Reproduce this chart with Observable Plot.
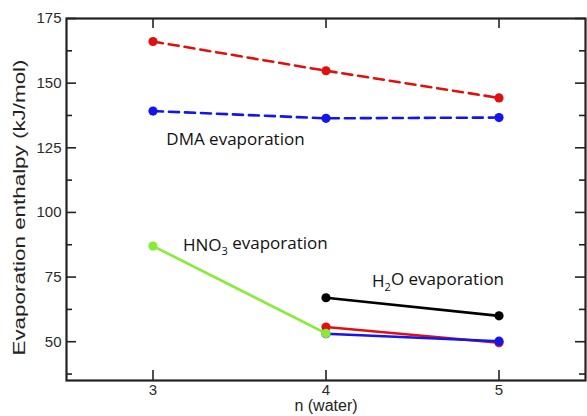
<!DOCTYPE html>
<html>
<head>
<meta charset="utf-8">
<script src="https://cdn.jsdelivr.net/npm/d3@7"></script>
<script src="https://cdn.jsdelivr.net/npm/@observablehq/plot@0.6"></script>
<style>
  html, body { margin: 0; padding: 0; background: #fff; }
</style>
</head>
<body>
<div id="chart"></div>
<script>
// ---- data ----
const nWater = [3, 4, 5];
const dmaRed  = [166.1, 154.8, 144.3];   // DMA evaporation (red, dashed)
const dmaBlue = [139.2, 136.4, 136.7];   // DMA evaporation (blue, dashed)
const nHno3 = [3, 4];
const hno3Green = [87.0, 53.2];          // HNO3 evaporation (green)
const nH2o = [4, 5];
const h2oBlack = [67.0, 60.0];           // H2O evaporation (black)
const h2oRed   = [55.7, 49.6];           // H2O evaporation (red)
const h2oBlue  = [53.1, 50.2];           // H2O evaporation (blue)

const yMajorTicks = [50, 75, 100, 125, 150, 175];
const yMinorTicks = [37.5, 62.5, 87.5, 112.5, 137.5, 162.5];
const xTicks = [3, 4, 5];

const annLabels = ["DMA evaporation", "HNO_3 evaporation", "H_2O evaporation"];
const annX = [3.077, 3.173, 4.266];
const annY = [128.2, 87.2, 73.3];

const yTitle = "Evaporation enthalpy (kJ/mol)";
const xTitle = "n (water)";

// ---- build tables ----
const toRows = (xs, ys) => xs.map((n, i) => ({n, v: ys[i]}));
const series = [
  {rows: toRows(nWater, dmaRed),  color: "#e0100f", dash: "10,6"},
  {rows: toRows(nWater, dmaBlue), color: "#1414ee", dash: "10,6"},
  {rows: toRows(nH2o, h2oBlack),  color: "#000000", dash: null},
  {rows: toRows(nH2o, h2oRed),    color: "#e0100f", dash: null},
  {rows: toRows(nH2o, h2oBlue),   color: "#1414ee", dash: null},
  {rows: toRows(nHno3, hno3Green),color: "#86ec34", dash: null}
];
const annotations = annLabels.map((label, i) => ({label, x: annX[i], y: annY[i]}));

const W = 587, H = 416, mL = 66, mR = 2, mT = 18, mB = 36;
const innerW = W - mL - mR, innerH = H - mT - mB;
const tickMaj = 10, tickMin = 6;
const ink = "#222";

const seriesMarks = series.flatMap(s => [
  Plot.line(s.rows, {x: "n", y: "v", stroke: s.color, strokeWidth: 2.6, strokeDasharray: s.dash}),
  Plot.dot(s.rows, {x: "n", y: "v", r: 4.6, fill: s.color, stroke: null})
]);

const plot = Plot.plot({
  width: W, height: H,
  marginLeft: mL, marginRight: mR, marginTop: mT, marginBottom: mB,
  x: {domain: [2.5, 5.5]},
  y: {domain: [35, 175]},
  style: {fontFamily: "'Liberation Sans', Arial, Helvetica, sans-serif", fontSize: "15px", color: ink, background: "#fff"},
  marks: [
    Plot.axisY(yMajorTicks, {tickSize: 0, tickPadding: 5, label: null, fontSize: 15, fill: "#2a2a2a"}),
    Plot.axisX(xTicks, {tickSize: 0, tickPadding: 4, label: null, fontSize: 15, fill: "#2a2a2a", tickFormat: "d"}),
    // inward ticks on all four sides
    Plot.ruleY(yMajorTicks, {stroke: ink, strokeWidth: 1.6, insetRight: innerW - tickMaj}),
    Plot.ruleY(yMinorTicks, {stroke: ink, strokeWidth: 1.6, insetRight: innerW - tickMin}),
    Plot.ruleY(yMajorTicks, {stroke: ink, strokeWidth: 1.6, insetLeft: innerW - tickMaj}),
    Plot.ruleY(yMinorTicks, {stroke: ink, strokeWidth: 1.6, insetLeft: innerW - tickMin}),
    Plot.ruleX(xTicks, {stroke: ink, strokeWidth: 1.6, insetTop: innerH - tickMaj}),
    Plot.ruleX(xTicks, {stroke: ink, strokeWidth: 1.6, insetBottom: innerH - tickMaj}),
    Plot.frame({stroke: ink, strokeWidth: 2.2}),
    ...seriesMarks,
    Plot.text(annotations, {x: "x", y: "y", text: "label", textAnchor: "start",
      fontFamily: "'Open Sans', sans-serif", fontSize: 17, fill: "#111"}),
    Plot.text([yTitle], {frameAnchor: "left", rotate: -90, dx: -47, dy: 8,
      textAnchor: "middle", fontSize: 16, fill: "#222"}),
    Plot.text([xTitle], {frameAnchor: "bottom", dy: 30, textAnchor: "middle", fontSize: 16, fill: "#222"})
  ]
});

// subscripts in annotation labels and stretched y title
d3.select(plot).selectAll("text").each(function () {
  const t = this.textContent;
  const sel = d3.select(this);
  if (t === yTitle) {
    sel.attr("textLength", 296).attr("lengthAdjust", "spacingAndGlyphs");
  } else if (t.includes("_")) {
    const parts = t.split(/_(\d)/);
    sel.text(null);
    parts.forEach((p, i) => {
      if (i % 2 === 1) {
        sel.append("tspan").attr("font-size", "65%").attr("dy", "0.35em").text(p);
      } else {
        const ts = sel.append("tspan").text(p);
        if (i > 0) ts.attr("dy", "-0.35em");
      }
    });
  }
});

document.getElementById("chart").appendChild(plot);
</script>
</body>
</html>
